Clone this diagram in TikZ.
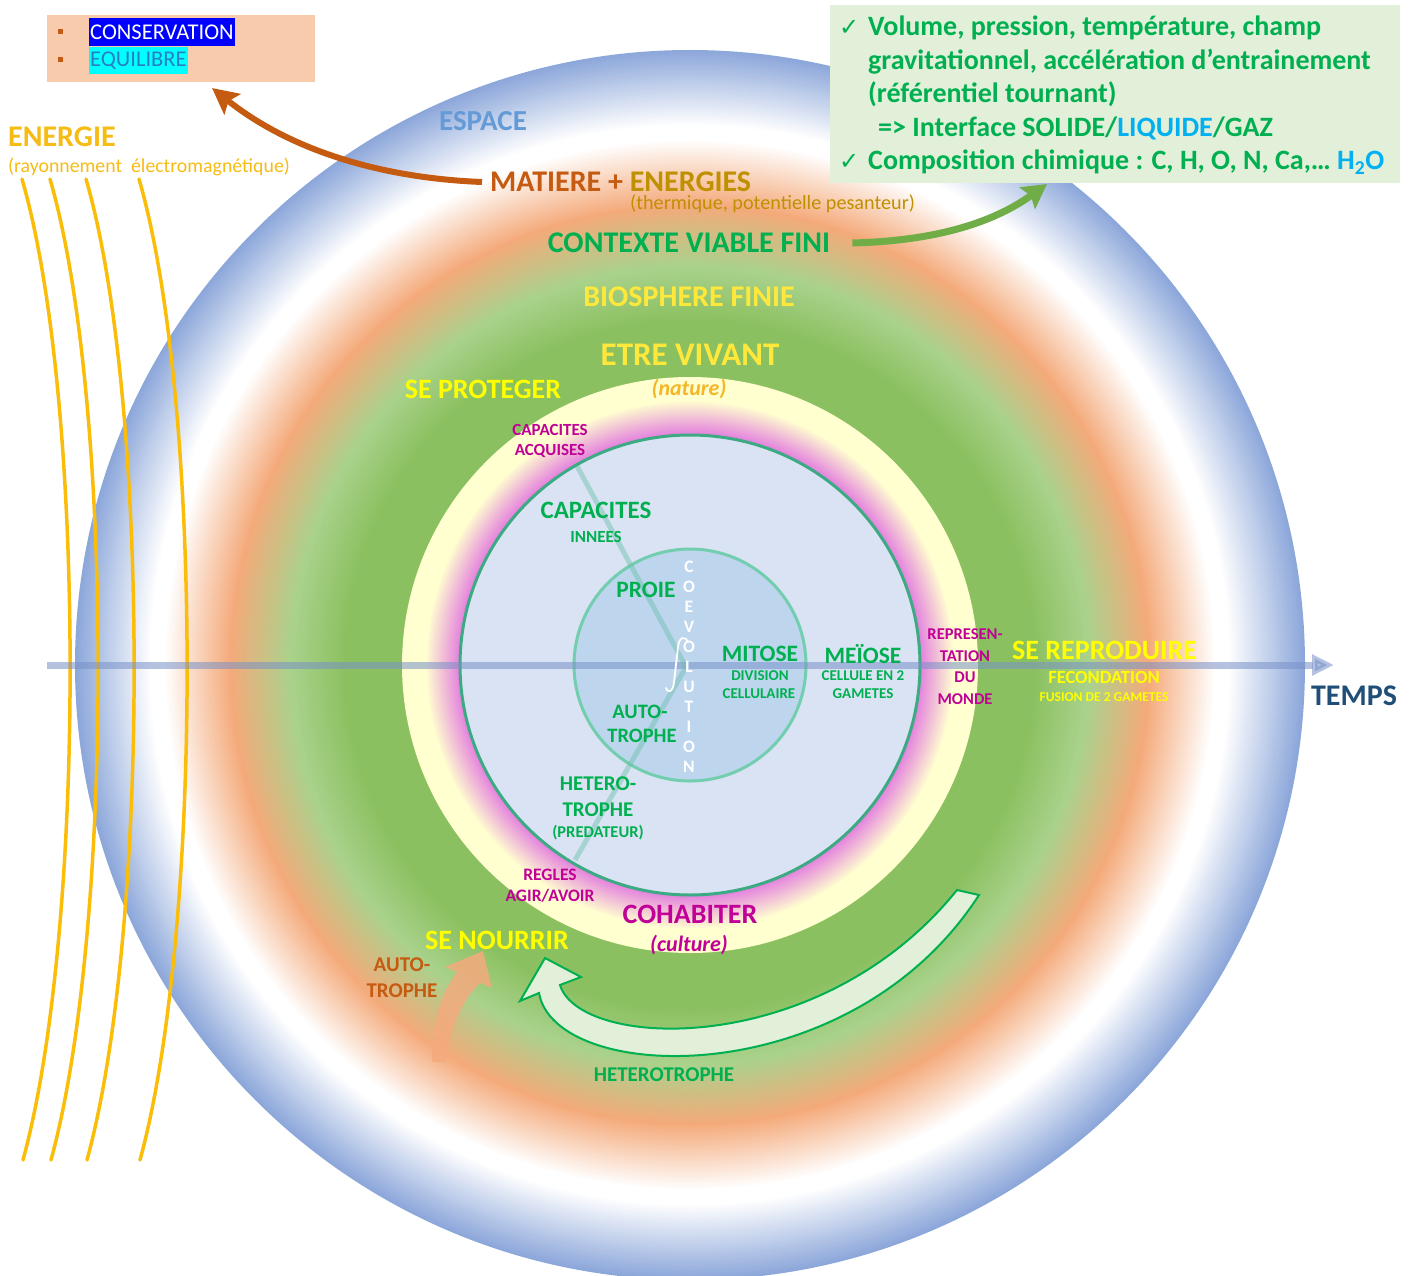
\documentclass[tikz,border=0pt]{standalone}
\usepackage{fontspec}
\setmainfont{Carlito}
\newfontfamily\djv{DejaVu Sans}
\usetikzlibrary{arrows.meta}
\definecolor{cblue}{RGB}{140,167,218}
\definecolor{cwhite}{RGB}{255,255,255}
\definecolor{corange}{RGB}{244,170,122}
\definecolor{clgreen}{RGB}{170,210,140}
\definecolor{cgreen}{RGB}{139,192,96}
\definecolor{cpale}{RGB}{255,255,208}
\definecolor{cpink}{RGB}{228,128,222}
\definecolor{cinner}{RGB}{218,227,243}
\definecolor{cinnerb}{RGB}{60,170,130}
\definecolor{csmall}{RGB}{189,214,238}
\definecolor{csmallb}{RGB}{115,205,175}
\definecolor{axisc}{RGB}{120,145,200}
\definecolor{coevc}{RGB}{105,190,170}
\definecolor{tgreen}{RGB}{0,176,80}
\definecolor{tmag}{RGB}{192,0,150}
\definecolor{tyel}{RGB}{255,255,0}
\definecolor{tbio}{RGB}{255,232,60}
\definecolor{tnat}{RGB}{245,182,40}
\definecolor{tenergie}{RGB}{247,188,20}
\definecolor{tmat}{RGB}{197,90,17}
\definecolor{tens}{RGB}{191,144,0}
\definecolor{tesp}{RGB}{100,155,215}
\definecolor{ttemps}{RGB}{31,78,121}
\definecolor{tliq}{RGB}{0,176,240}
\definecolor{boxor}{RGB}{248,203,173}
\definecolor{boxgr}{RGB}{226,240,217}
\definecolor{hlblue}{RGB}{0,0,255}
\definecolor{hlcyan}{RGB}{0,255,255}
\definecolor{tequi}{RGB}{40,125,195}
\definecolor{arrgreen}{RGB}{112,173,71}
\definecolor{salmon}{RGB}{244,170,125}
\definecolor{raysc}{RGB}{250,190,10}
\newcommand{\myband}[5]{%
  \foreach \k in {0,...,#5}{%
    \pgfmathsetmacro{\rr}{#1-(#1-#2)*\k/#5}%
    \pgfmathsetmacro{\pp}{100*\k/#5}%
    \fill[#4!\pp!#3] (690,665) circle[radius=\rr pt];}}
\tikzset{
  fb/.style={font=\bfseries\fontsize{#1}{#1}\selectfont},
  fr/.style={font=\fontsize{#1}{#1}\selectfont},
  fi/.style={font=\bfseries\itshape\fontsize{#1}{#1}\selectfont},
  every node/.style={inner sep=0pt},
  ray/.style={raysc, line width=3.5pt, line cap=round},
  boxline/.style={tgreen, fb=28, anchor=base west},
  chkmark/.style={tgreen, font=\djv\fontsize{24}{24}\selectfont, anchor=base west},
}
\begin{document}
\begin{tikzpicture}[x=1pt,y=-1pt]
\useasboundingbox (0,0) rectangle (1416,1276);
\fill[white] (0,0) rectangle (1416,1276);
\coordinate (O) at (690,665);
% concentric gradient
\myband{615}{540}{cblue}{cwhite}{40}
\myband{526}{460}{cwhite}{corange}{36}
\myband{460}{400}{corange}{clgreen}{30}
\myband{400}{345}{clgreen}{cgreen}{28}
\fill[cpale] (O) circle[radius=288pt];
\myband{265}{231}{cpale}{cpink}{20}
\filldraw[fill=cinner, draw=cinnerb, line width=3pt] (O) circle[radius=230pt];
\filldraw[fill=csmall, draw=csmallb, line width=3pt] (O) circle[radius=116pt];
% rays
\foreach \a in {22,50,86,139}{
  \draw[ray] (\a,179) .. controls (\a+64,400) and (\a+64,930) .. (\a+1,1160);
}
% axis
\coordinate (axL) at (47,665);
\coordinate (axR) at (1334,665);
\draw[axisc, opacity=.55, line width=7pt, -{Triangle[length=22pt,width=20pt]}] (axL) -- (axR);
% coevolution line
\coordinate (cv1) at (577,466);
\coordinate (cv2) at (686,667);
\coordinate (cv3) at (575,860);
\draw[coevc, opacity=.45, line width=5pt, line join=round] (cv1) -- (cv2) -- (cv3);
% integral
\draw[white, line width=1.8pt, line cap=round] (688,642) .. controls (686,636) and (679,636) .. (678,647) -- (674,682) .. controls (673,693) and (667,693) .. (666,688);
\foreach \ch [count=\n from 0] in {C,O,E,V,O,L,U,T,I,O,N}
  \node[white, fb=17.5] (coev\n) at (689,567+20*\n) {\ch};
% top-left box
\node[fill=boxor, minimum width=268pt, minimum height=67pt] (consbox) at (181,48.5) {};
\fill[tmat] (58,29.5) rectangle (63,34.5);
\fill[tmat] (58,57) rectangle (63,62);
\node[fill=hlblue, text=white, fr=22.5, anchor=west, minimum height=28pt, inner xsep=1pt] (cons) at (89,32) {CONSERVATION};
\node[fill=hlcyan, text=tequi, fr=22.5, anchor=west, minimum height=27pt, inner xsep=1pt] (equi) at (89,60.5) {EQUILIBRE};
% top-right box
\node[fill=boxgr, minimum width=570pt, minimum height=178pt] (ctxbox) at (1115,94) {};
\node[chkmark] (chk1) at (839,36) {✓};
\node[chkmark] (chk2) at (839,170) {✓};
\node[boxline] (l1) at (868,36) {Volume, pression, température, champ};
\node[boxline] (l2) at (868,69.5) {gravitationnel, accélération d’entrainement};
\node[boxline] (l3) at (868,103) {(référentiel tournant)};
\node[boxline] (l4) at (878,136.5) {=> Interface SOLIDE/\textcolor{tliq}{LIQUIDE}/GAZ};
\node[boxline] (l5) at (868,170) {Composition chimique : C, H, O, N, Ca,… \textcolor{tliq}{H\textsubscript{2}O}};
% left texts
\node[tenergie, fb=30, anchor=west] (energie) at (8,137) {ENERGIE};
\node[tenergie, fr=19.8, anchor=west] (rayon) at (8,167) {(rayonnement\ \ électromagnétique)};
% ring labels
\node[tesp, fb=29] (espace) at (483,121) {ESPACE};
\node[fb=30, anchor=west] (matiere) at (490,182) {\textcolor{tmat}{MATIERE +} \textcolor{tens}{ENERGIES}};
\node[tens, fr=20.2, anchor=west] (thermique) at (630,204) {(thermique, potentielle pesanteur)};
\node[tgreen, fb=30] (contexte) at (689,243) {CONTEXTE VIABLE FINI};
\node[tbio, fb=30] (biosphere) at (689,297) {BIOSPHERE FINIE};
\node[tbio, fb=33] (etre) at (690,355) {ETRE VIVANT};
\node[tnat, fi=22] (nature) at (689,389) {(nature)};
\node[tyel, fb=28] (proteger) at (483,389) {SE PROTEGER};
\node[tmag, fb=17] (acq1) at (550,430) {CAPACITES};
\node[tmag, fb=17] (acq2) at (550,451) {ACQUISES};
\node[tgreen, fb=25] (cap1) at (596,510) {CAPACITES};
\node[tgreen, fb=17] (cap2) at (596,537) {INNEES};
\node[tgreen, fb=23.5] (proie) at (646,590) {PROIE};
\node[tgreen, fb=20.5] (auto1) at (640,712) {AUTO-};
\node[tgreen, fb=20.5] (auto2) at (642,736) {TROPHE};
\node[tgreen, fb=23.5] (mitose) at (760,654) {MITOSE};
\node[tgreen, fb=15] (mit1) at (760,676) {DIVISION};
\node[tgreen, fb=15] (mit2) at (759,694) {CELLULAIRE};
\node[tgreen, fb=23.5] (meiose) at (863,654) {MEÏOSE};
\node[tgreen, fb=15] (mei1) at (863,676) {CELLULE EN 2};
\node[tgreen, fb=15] (mei2) at (863,694) {GAMETES};
\node[tmag, fb=16.5] (rep1) at (965,634) {REPRESEN-};
\node[tmag, fb=16.5] (rep2) at (965,656) {TATION};
\node[tmag, fb=16.5] (rep3) at (965,677) {DU};
\node[tmag, fb=16.5] (rep4) at (965,699) {MONDE};
\node[tyel, fb=28, anchor=west] (repro) at (1012,650) {SE REPRODUIRE};
\node[tyel, fb=18.5] (fecond) at (1104,677) {FECONDATION};
\node[tyel, fb=13.5] (fusion) at (1104,697) {FUSION DE 2 GAMETES};
\node[ttemps, fb=30] (temps) at (1354,696) {TEMPS};
\node[tgreen, fb=21] (het1) at (598,784) {HETERO-};
\node[tgreen, fb=21] (het2) at (598,810) {TROPHE};
\node[tgreen, fb=16.5] (het3) at (598,833) {(PREDATEUR)};
\node[tmag, fb=17.5] (reg1) at (550,875) {REGLES};
\node[tmag, fb=17.5] (reg2) at (550,896) {AGIR/AVOIR};
\node[tmag, fb=28] (cohab) at (690,914) {COHABITER};
\node[tmag, fi=22] (culture) at (689,945) {(culture)};
% arrows
\coordinate (matend) at (212,88);
\draw[tmat, line width=6pt, -{Stealth[length=26pt,width=26pt,inset=5pt]}] ([xshift=-8pt]matiere.west) .. controls (380,178) and (290,150) .. (matend);
\coordinate (ctxend) at (1047,184);
\draw[arrgreen, line width=7pt, -{Stealth[length=24pt,width=26pt,inset=4pt]}] ([xshift=22pt]contexte.east) .. controls (930,241) and (990,225) .. (ctxend);
\fill[salmon, opacity=.85] (432,1062) .. controls (431,1025) and (440,995) .. (457,972) -- (445,967) -- (483,951) -- (492,988) -- (480,983) .. controls (462,1000) and (449,1030) .. (446,1062) -- cycle;
\filldraw[draw=tgreen, fill=boxgr, line width=2pt, line join=miter] (957,890) .. controls (820,1060) and (580,1050) .. (560,985) -- (581,977) -- (545,958) -- (520,1001) -- (539,993) .. controls (555,1085) and (850,1095) .. (979,895) -- cycle;
\node[tyel, fb=28] (nourrir) at (497,940) {SE NOURRIR};
\node[tmat, fb=21] (aut1) at (402,965) {AUTO-};
\node[tmat, fb=21] (aut2) at (402,991) {TROPHE};
\node[tgreen, fb=21] (hetero) at (664,1075) {HETEROTROPHE};
\end{tikzpicture}
\end{document}
